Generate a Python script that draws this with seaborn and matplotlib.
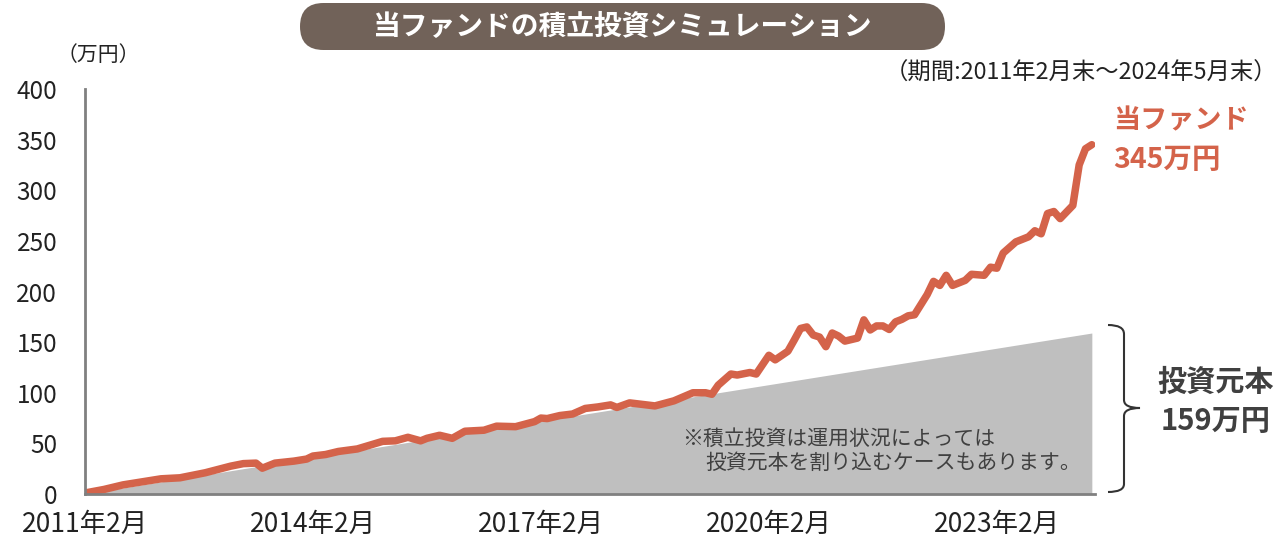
import matplotlib
matplotlib.use("Agg")
import matplotlib.pyplot as plt
import seaborn as sns
from matplotlib.patches import FancyBboxPatch, PathPatch
from matplotlib.path import Path
from matplotlib.transforms import Affine2D

# months elapsed since 2011年2月末, fund value (万円)
months = [0, 3, 6, 9, 12, 15, 19, 23, 25, 27, 28, 30, 33, 35, 36, 38, 40, 43, 47, 49,
          51, 53, 54, 56, 58, 60, 63, 65, 68, 71, 72, 73, 75, 77, 79, 81, 83, 84, 86, 90,
          93, 96, 98, 99, 100, 102, 103, 105, 106, 108, 109, 111, 112, 113, 114, 115, 116, 117, 118, 119,
          120, 122, 123, 124, 125, 126, 127, 128, 129, 130, 131, 133, 134, 135, 136, 137, 139, 140, 142, 143,
          144, 145, 147, 149, 150, 151, 152, 153, 154, 156, 157, 158, 159]
fund_values = [1, 4.5, 9, 12, 15, 16, 21, 27.5, 30, 30.5, 25.5, 30.5, 32.5, 34.5, 37.5, 39, 42, 44.5, 52, 52.5,
               56, 52.5, 55, 58, 55, 62, 63, 67, 66.5, 71.5, 75, 74.5, 77.5, 79, 84.5, 86, 88, 85.5, 90, 87,
               92, 100, 100, 98.5, 107.5, 118.5, 117.5, 120, 118.5, 137, 132.5, 141, 152, 163.5, 165, 157, 155, 145.5, 159, 156,
               151, 154, 172, 162, 166, 166, 162.5, 170, 172.5, 176, 177, 197, 210, 206, 216, 206, 211, 217, 216, 224,
               223, 238, 249, 254, 260, 257, 277, 279, 272, 285, 325, 341, 345]

principal_months = [0, 159]
principal_values = [0, 159]

tick_months = [0, 36, 72, 108, 144]
tick_labels = ['2011年2月', '2014年2月', '2017年2月', '2020年2月', '2023年2月']
y_ticks = [0, 50, 100, 150, 200, 250, 300, 350, 400]

sns.set_style('white')
plt.rcParams['font.family'] = ['Noto Sans CJK JP', 'DejaVu Sans']

W, H = 1281, 537
fig = plt.figure(figsize=(W / 100, H / 100), dpi=100)
ax = fig.add_axes([85 / W, 43 / H, 1010 / W, 405 / H])

ax.fill_between(principal_months, 0, principal_values, color='#bfbfbf', lw=0)
sns.lineplot(x=months, y=fund_values, ax=ax, color='#d4634a', lw=5.4,
             sort=False, estimator=None, solid_joinstyle='round', solid_capstyle='round')

ax.set_xlim(0, 159.5)
ax.set_ylim(0, 400)
ax.set_xticks(tick_months, tick_labels)
ax.set_yticks(y_ticks)
ax.tick_params(axis='x', direction='inout', length=14, width=1.5, color='#808080',
               labelsize=19, pad=5, labelcolor='#222222')
ax.tick_params(axis='y', direction='in', length=7, width=1.5, color='#808080',
               labelsize=17.5, pad=20, labelcolor='#222222')
for side in ['top', 'right']:
    ax.spines[side].set_visible(False)
for side in ['left', 'bottom']:
    ax.spines[side].set_color('#808080')
    ax.spines[side].set_linewidth(2)
ax.set_xlabel('')
ax.set_ylabel('')

# pixel coordinates (origin top-left) for annotations
px = Affine2D().scale(1, -1).translate(0, H) + Affine2D().scale(1 / W, 1 / H) + fig.transFigure

title_box = FancyBboxPatch((300, 3), 645, 47, boxstyle='round,pad=0,rounding_size=23.5',
                           transform=px, facecolor='#716259', edgecolor='none')
fig.patches.append(title_box)
fig.text(622, 27, '当ファンドの積立投資シミュレーション', transform=px, ha='center', va='center',
         color='white', fontsize=20, fontweight='bold')

fig.text(98, 55, '（万円）', transform=px, ha='center', va='center', fontsize=15, color='#222222')
fig.text(1277, 73, '（期間:2011年2月末～2024年5月末）', transform=px, ha='right', va='center',
         fontsize=16.8, color='#222222')

fig.text(1113, 120, '当ファンド', transform=px, ha='left', va='center', fontsize=19.5,
         fontweight='bold', color='#d4634a')
fig.text(1113, 160, '345万円', transform=px, ha='left', va='center', fontsize=20.5,
         fontweight='bold', color='#d4634a')

fig.text(1216, 382, '投資元本', transform=px, ha='center', va='center', fontsize=21,
         fontweight='bold', color='#404040')
fig.text(1216, 421, '159万円', transform=px, ha='center', va='center', fontsize=21,
         fontweight='bold', color='#404040')

fig.text(682, 439, '※積立投資は運用状況によっては', transform=px, ha='left', va='center',
         fontsize=15, color='#404040')
fig.text(705, 463, '投資元本を割り込むケースもあります。', transform=px, ha='left', va='center',
         fontsize=15, color='#404040')

brace = Path([(1108, 325), (1124, 325), (1124, 334), (1124, 400), (1124, 408), (1140, 408),
              (1124, 408), (1124, 416), (1124, 484), (1124, 492), (1108, 492)],
             [Path.MOVETO, Path.CURVE3, Path.CURVE3, Path.LINETO, Path.CURVE3, Path.CURVE3,
              Path.CURVE3, Path.CURVE3, Path.LINETO, Path.CURVE3, Path.CURVE3])
fig.patches.append(PathPatch(brace, transform=px, fill=False, edgecolor='#333333', lw=1.5))

fig.savefig('out.png', dpi=100)
